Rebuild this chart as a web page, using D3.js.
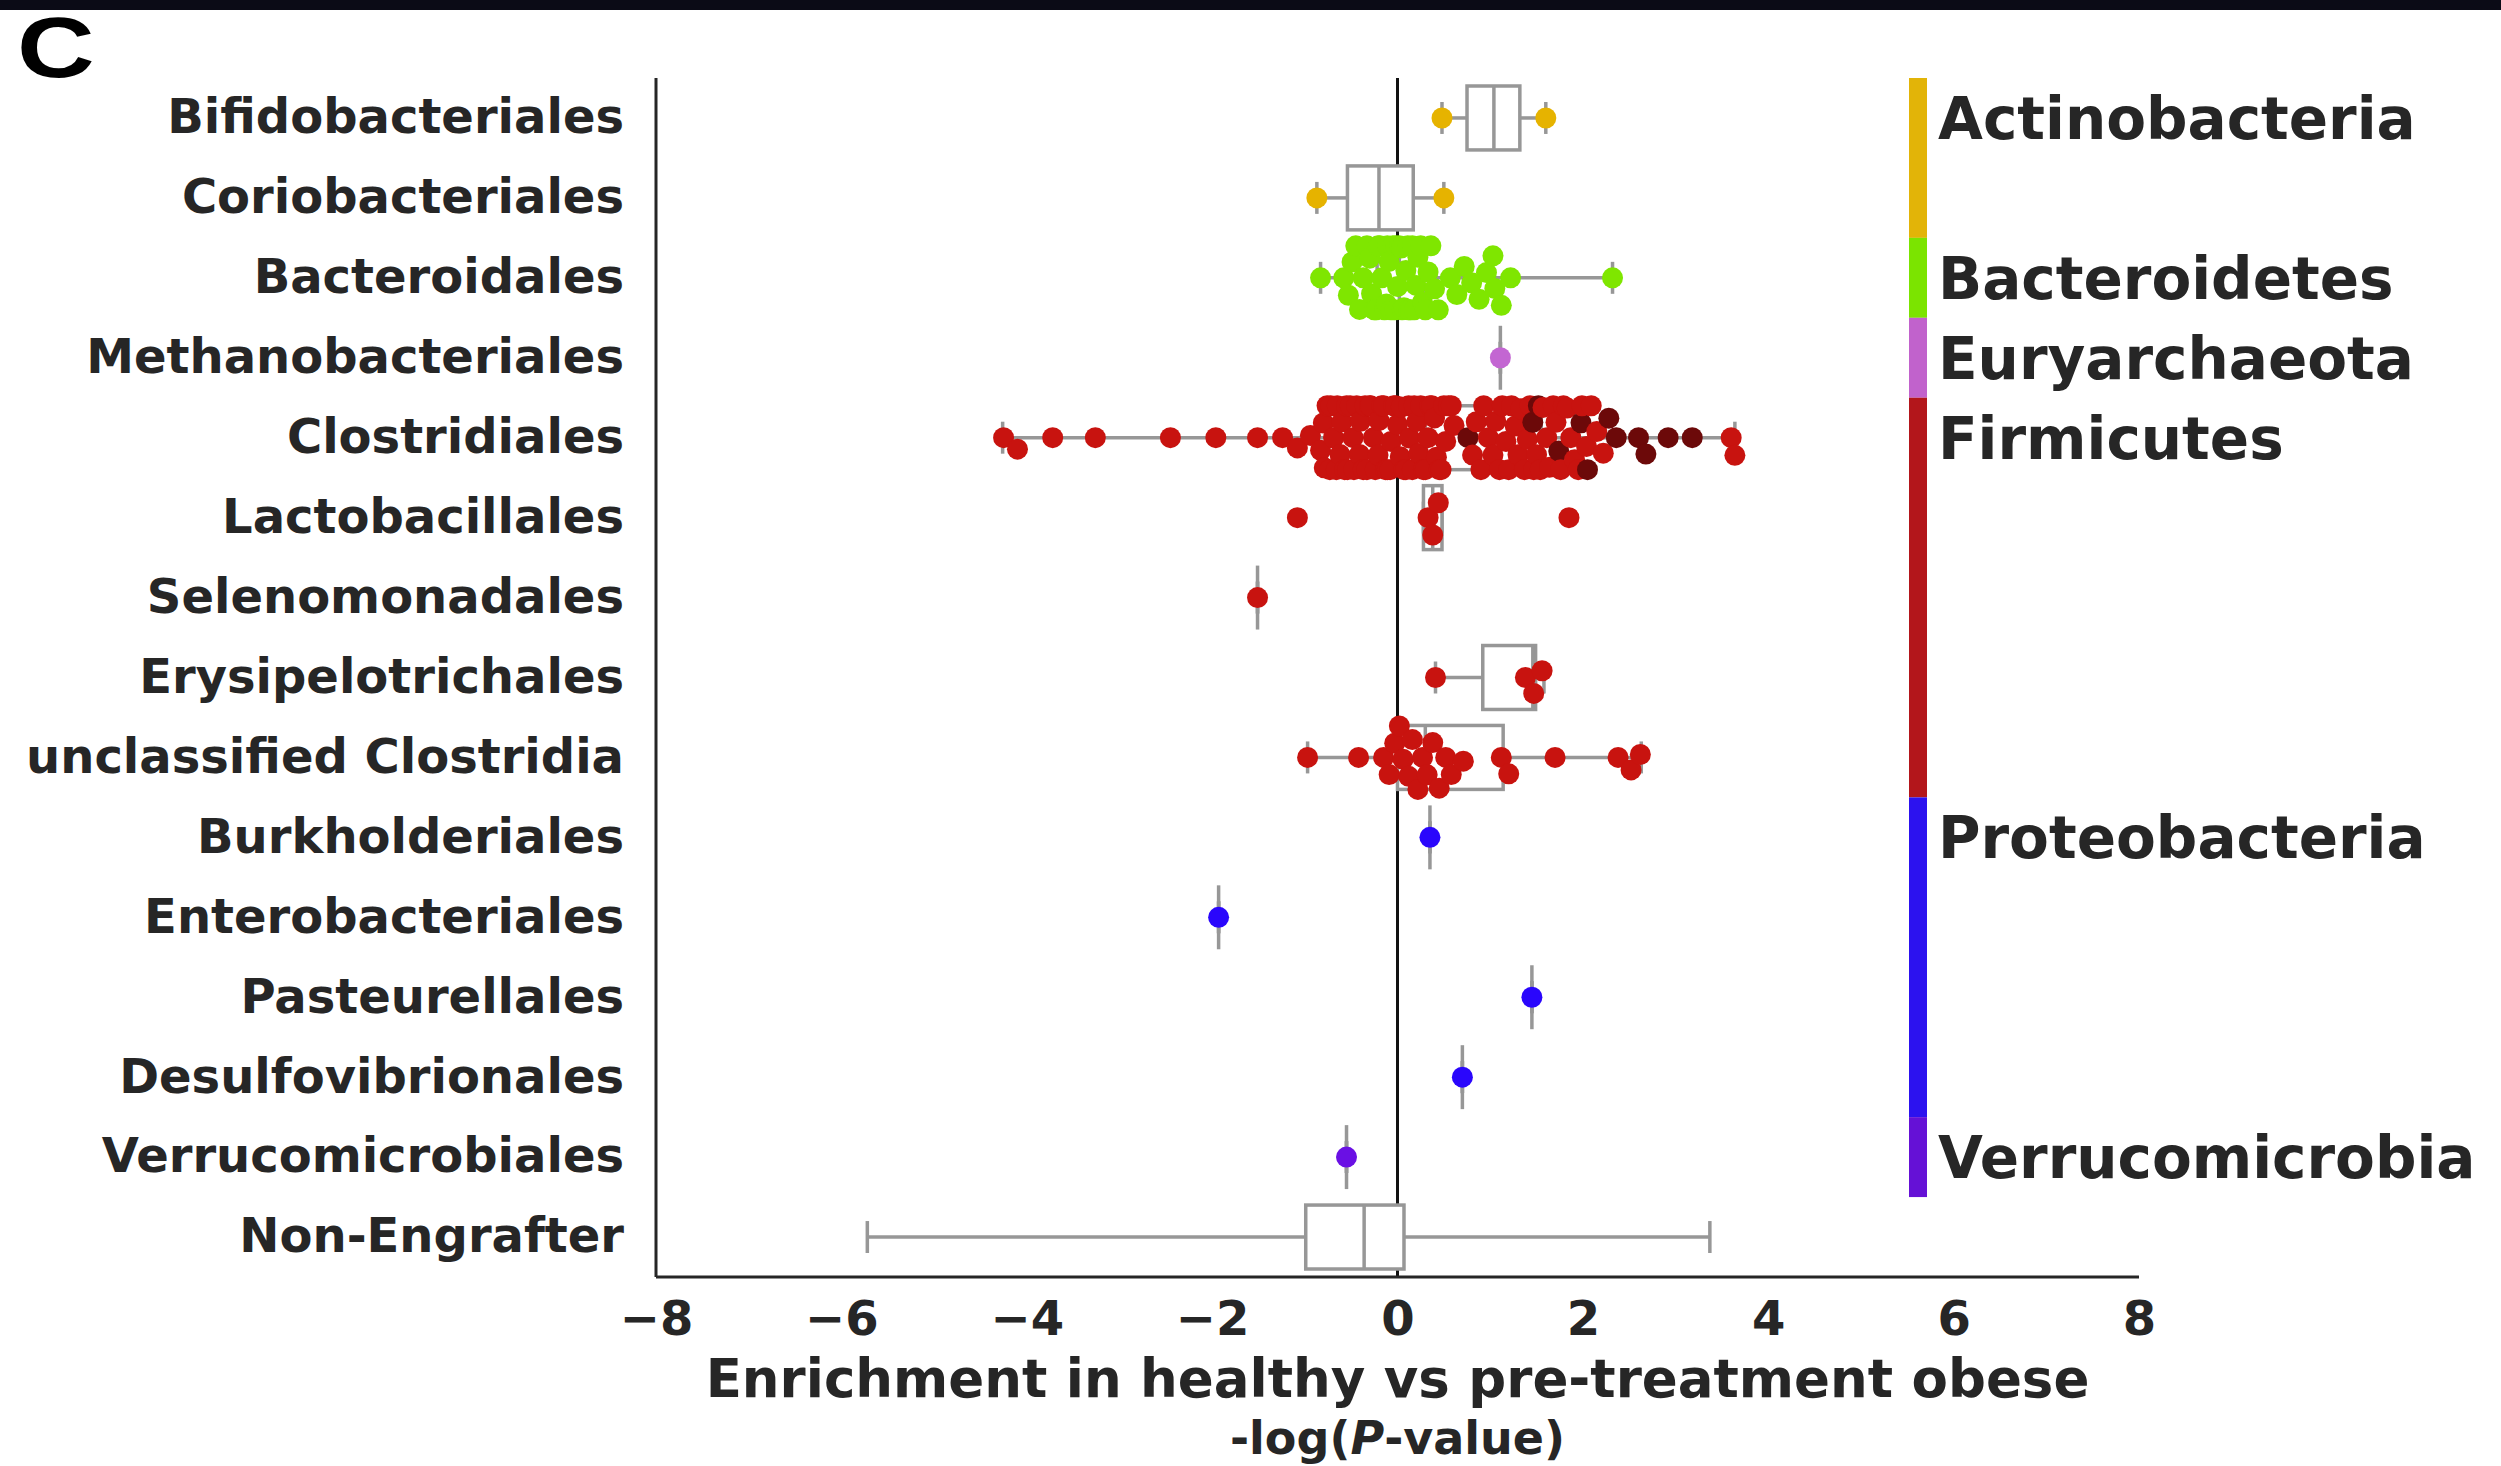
<!DOCTYPE html>
<html>
<head>
  <meta charset="utf-8">
  <title>Enrichment in healthy vs pre-treatment obese</title>
  <script src="https://d3js.org/d3.v7.min.js"></script>
  <style>
    body { margin: 0; background: #fff; }
    .lab { font-family: "DejaVu Sans"; font-weight: bold; fill: #262626; }
  </style>
</head>
<body>
  <svg id="screen"></svg>

  <script>
    // rows, top to bottom
    const orders = ["Bifidobacteriales", "Coriobacteriales", "Bacteroidales", "Methanobacteriales",
      "Clostridiales", "Lactobacillales", "Selenomonadales", "Erysipelotrichales",
      "unclassified Clostridia", "Burkholderiales", "Enterobacteriales", "Pasteurellales",
      "Desulfovibrionales", "Verrucomicrobiales", "Non-Engrafter"]
    const orderPhylum = [0, 0, 1, 2, 3, 3, 3, 3, 3, 4, 4, 4, 4, 5, -1]

    const phyla = ["Actinobacteria", "Bacteroidetes", "Euryarchaeota", "Firmicutes", "Proteobacteria", "Verrucomicrobia"]
    const phylumColors = ["#e2b408", "#7be400", "#c162cc", "#b3161b", "#2c12ef", "#6511d6"]
    const pointColors = ["#e6b300", "#7fe600", "#c366d2", "#c8130f", "#2a06fc", "#6a10e4"]
    const darkPointColor = "#6c0909"

    // box stats
    const boxLow    = [0.48, -0.87, -0.83, 1.11, -4.26, 0.28, -1.51, 0.41, -0.97, 0.35, -1.93, 1.45, 0.70, -0.55, -5.72]
    const boxQ1     = [0.75, -0.54, -0.22, 1.11, -0.62, 0.28, -1.51, 0.92, 0.00, 0.35, -1.93, 1.45, 0.70, -0.55, -0.99]
    const boxMedian = [1.04, -0.20, 0.02, 1.11, 0.30, 0.38, -1.51, 1.46, 0.30, 0.35, -1.93, 1.45, 0.70, -0.55, -0.36]
    const boxQ3     = [1.32, 0.17, 0.28, 1.11, 1.55, 0.48, -1.51, 1.49, 1.14, 0.35, -1.93, 1.45, 0.70, -0.55, 0.07]
    const boxHigh   = [1.60, 0.50, 2.32, 1.11, 3.64, 0.48, -1.51, 1.58, 2.63, 0.35, -1.93, 1.45, 0.70, -0.55, 3.37]

    // points per order
    const bifidobacteriales = [0.48, 1.60]
    const coriobacteriales = [-0.87, 0.50]
    const bacteroidales = [-0.83,
      -0.58, -0.53, -0.49, -0.45, -0.41, -0.37, -0.33, -0.30, -0.28, -0.25, -0.23, -0.21, -0.19,
      -0.17, -0.14, -0.12, -0.11, -0.09, -0.07, -0.05, -0.03, -0.02, 0.00, 0.02, 0.04, 0.05, 0.07,
      0.09, 0.11, 0.12, 0.14, 0.16, 0.18, 0.20, 0.22, 0.25, 0.27, 0.30, 0.33, 0.36, 0.40, 0.44,
      0.57, 0.64, 0.72, 0.80, 0.88, 0.96, 1.03, 1.05, 1.12, 1.22, 2.32]
    const methanobacteriales = [1.11]
    const clostridiales = [-4.25, -4.10, -3.72, -3.26, -2.45, -1.96, -1.51, -1.24, -1.08, -0.94,
      -0.83, -0.80, -0.79, -0.76, -0.73, -0.72, -0.69, -0.66, -0.65, -0.62, -0.60, -0.57, -0.55,
      -0.54, -0.51, -0.48, -0.47, -0.44, -0.41, -0.40, -0.37, -0.35, -0.33, -0.30, -0.29, -0.26,
      -0.24, -0.21, -0.20, -0.17, -0.15, -0.13, -0.11, -0.08, -0.07, -0.04, -0.02, 0.00, 0.03,
      0.04, 0.07, 0.09, 0.12, 0.13, 0.16, 0.18, 0.21, 0.23, 0.25, 0.28, 0.30, 0.33, 0.35, 0.37,
      0.40, 0.42, 0.45, 0.47, 0.50, 0.52, 0.55, 0.58, 0.61,
      0.81, 0.85, 0.90, 0.93, 0.98, 1.03, 1.06, 1.10, 1.13, 1.17, 1.20, 1.23, 1.27, 1.30, 1.33,
      1.37, 1.40, 1.43, 1.47, 1.50, 1.54, 1.57, 1.61, 1.64, 1.68, 1.71, 1.76, 1.79, 1.83, 1.87,
      1.91, 1.95, 1.99, 2.04, 2.09, 2.15, 2.22,
      3.60, 3.64]
    const clostridialesDark = [0.76, 1.46, 1.52, 1.74, 1.98, 2.05, 2.28, 2.36, 2.60, 2.68, 2.92, 3.18]
    const lactobacillales = [-1.08, 0.33, 0.38, 0.44, 1.85]
    const selenomonadales = [-1.51]
    const erysipelotrichales = [0.41, 1.38, 1.47, 1.56]
    const unclassifiedClostridia = [-0.97, -0.42, -0.15, -0.09, -0.03, 0.02, 0.06, 0.12, 0.16,
      0.22, 0.27, 0.32, 0.38, 0.45, 0.52, 0.58, 0.71, 1.12, 1.20, 1.70, 2.38, 2.52, 2.62]
    const burkholderiales = [0.35]
    const enterobacteriales = [-1.93]
    const pasteurellales = [1.45]
    const desulfovibrionales = [0.70]
    const verrucomicrobiales = [-0.55]
    const nonEngrafter = []

    const pointsByOrder = [bifidobacteriales, coriobacteriales, bacteroidales, methanobacteriales,
      clostridiales, lactobacillales, selenomonadales, erysipelotrichales, unclassifiedClostridia,
      burkholderiales, enterobacteriales, pasteurellales, desulfovibrionales, verrucomicrobiales, nonEngrafter]

    const xTicks = [-8, -6, -4, -2, 0, 2, 4, 6, 8]

    // canvas
    const W = 2501, H = 1466
    const svg = d3.select('#screen').attr('width', W).attr('height', H)

    svg.append('rect').attr('width', W).attr('height', 10).attr('fill', '#0b0b16')
    svg.append('text').attr('transform', 'translate(17,77) scale(1.25,1)')
       .style('font-family', 'Liberation Sans').style('font-weight', 'bold')
       .style('font-size', '86px').attr('fill', '#000').text('C')

    const x = d3.scaleLinear().domain([-8, 8]).range([656, 2139])
    const y = d3.scaleBand().domain(orders).range([78, 1277])
    const bw = y.bandwidth()
    const boxH = bw * 0.8
    const grey = '#979797'

    // zero line (under the boxes)
    svg.append('line')
       .attr('x1', x(0)).attr('x2', x(0)).attr('y1', 78).attr('y2', 1277)
       .attr('stroke', '#111').attr('stroke-width', 3)

    // boxes
    const rows = orders.map((o, i) => ({o, i}))
    const boxes = svg.append('g').selectAll('g').data(rows).join('g')
       .attr('transform', d => `translate(0,${y(d.o) + bw / 2})`)

    boxes.append('line').attr('x1', d => x(boxLow[d.i])).attr('x2', d => x(boxQ1[d.i]))
       .attr('stroke', grey).attr('stroke-width', 3.5)
    boxes.append('line').attr('x1', d => x(boxQ3[d.i])).attr('x2', d => x(boxHigh[d.i]))
       .attr('stroke', grey).attr('stroke-width', 3.5)
    boxes.append('line').attr('x1', d => x(boxLow[d.i])).attr('x2', d => x(boxLow[d.i]))
       .attr('y1', -boxH / 4).attr('y2', boxH / 4).attr('stroke', grey).attr('stroke-width', 3.5)
    boxes.append('line').attr('x1', d => x(boxHigh[d.i])).attr('x2', d => x(boxHigh[d.i]))
       .attr('y1', -boxH / 4).attr('y2', boxH / 4).attr('stroke', grey).attr('stroke-width', 3.5)
    boxes.append('rect')
       .attr('x', d => x(boxQ1[d.i])).attr('width', d => x(boxQ3[d.i]) - x(boxQ1[d.i]))
       .attr('y', -boxH / 2).attr('height', boxH)
       .attr('fill', '#fff').attr('stroke', grey).attr('stroke-width', 3.5)
    boxes.append('line').attr('x1', d => x(boxMedian[d.i])).attr('x2', d => x(boxMedian[d.i]))
       .attr('y1', -boxH / 2).attr('y2', boxH / 2).attr('stroke', grey).attr('stroke-width', 3.5)

    // beeswarm placement, then clamp into the gutter like seaborn
    const r = 9, drawR = 10.5
    function swarm(pts, half) {
      const dd = 4 * r * r
      const placed = []
      pts.slice().sort((a, b) => a.v - b.v).forEach(p => {
        const px = x(p.v)
        const nb = placed.filter(q => Math.abs(q.px - px) < 2 * r)
        const cands = [0]
        nb.forEach(q => {
          const dy = Math.sqrt(dd - (q.px - px) ** 2)
          cands.push(q.off + dy, q.off - dy)
        })
        cands.sort((a, b) => Math.abs(a) - Math.abs(b))
        const off = cands.find(c => nb.every(q => (q.px - px) ** 2 + (q.off - c) ** 2 >= dd - 0.01))
        placed.push({...p, px, off})
      })
      placed.forEach(p => { p.off = Math.max(-half, Math.min(half, p.off)) })
      return placed
    }

    const dots = []
    rows.forEach(d => {
      const ph = orderPhylum[d.i]
      let pts = pointsByOrder[d.i].map(v => ({v, c: ph >= 0 ? pointColors[ph] : '#000'}))
      if (d.o === 'Clostridiales') pts = pts.concat(clostridialesDark.map(v => ({v, c: darkPointColor})))
      swarm(pts, boxH / 2).forEach(p => dots.push({...p, cy: y(d.o) + bw / 2 + p.off}))
    })

    svg.append('g').selectAll('circle').data(dots).join('circle')
       .attr('cx', d => d.px).attr('cy', d => d.cy).attr('r', drawR)
       .attr('fill', d => d.c)

    // axes
    const xAxis = svg.append('g').attr('transform', 'translate(0,1277)')
       .call(d3.axisBottom(x).tickValues(xTicks).tickFormat(d3.format('d')).tickSize(0).tickSizeOuter(0).tickPadding(24))
    const yAxis = svg.append('g').attr('transform', 'translate(656,0)')
       .call(d3.axisLeft(y).tickSize(0).tickSizeOuter(0).tickPadding(32))
    ;[xAxis, yAxis].forEach(a => {
      a.select('.domain').attr('stroke', '#262626').attr('stroke-width', 3)
      a.selectAll('text').attr('class', 'lab').style('font-size', '48px')
    })
    xAxis.select('.domain').attr('d', `M${x(-8)},0H${x(8)}`)
    yAxis.select('.domain').attr('d', `M0,${y.range()[0]}V${y.range()[1]}`)

    // x label, two lines
    svg.append('text').attr('class', 'lab').attr('text-anchor', 'middle').style('font-size', '53px')
       .attr('x', x(0)).attr('y', 1397).text('Enrichment in healthy vs pre-treatment obese')
    const l2 = svg.append('text').attr('class', 'lab').attr('text-anchor', 'middle').style('font-size', '46px')
       .attr('x', x(0)).attr('y', 1454)
    l2.append('tspan').text('-log(')
    l2.append('tspan').style('font-style', 'italic').text('P')
    l2.append('tspan').text('-value)')

    // phylum legend bar
    const legX = 1909
    const legend = svg.append('g')
    phyla.forEach((p, k) => {
      const idx = orders.filter((o, i) => orderPhylum[i] === k)
      const top = y(idx[0]), bot = y(idx[idx.length - 1]) + bw
      legend.append('rect').attr('x', legX).attr('y', top).attr('width', 18).attr('height', bot - top)
         .attr('fill', phylumColors[k])
      legend.append('text').attr('class', 'lab').style('font-size', '58px')
         .attr('x', legX + 29).attr('y', top + bw / 2).attr('dy', '0.36em').text(p)
    })
  </script>
</body>
</html>
